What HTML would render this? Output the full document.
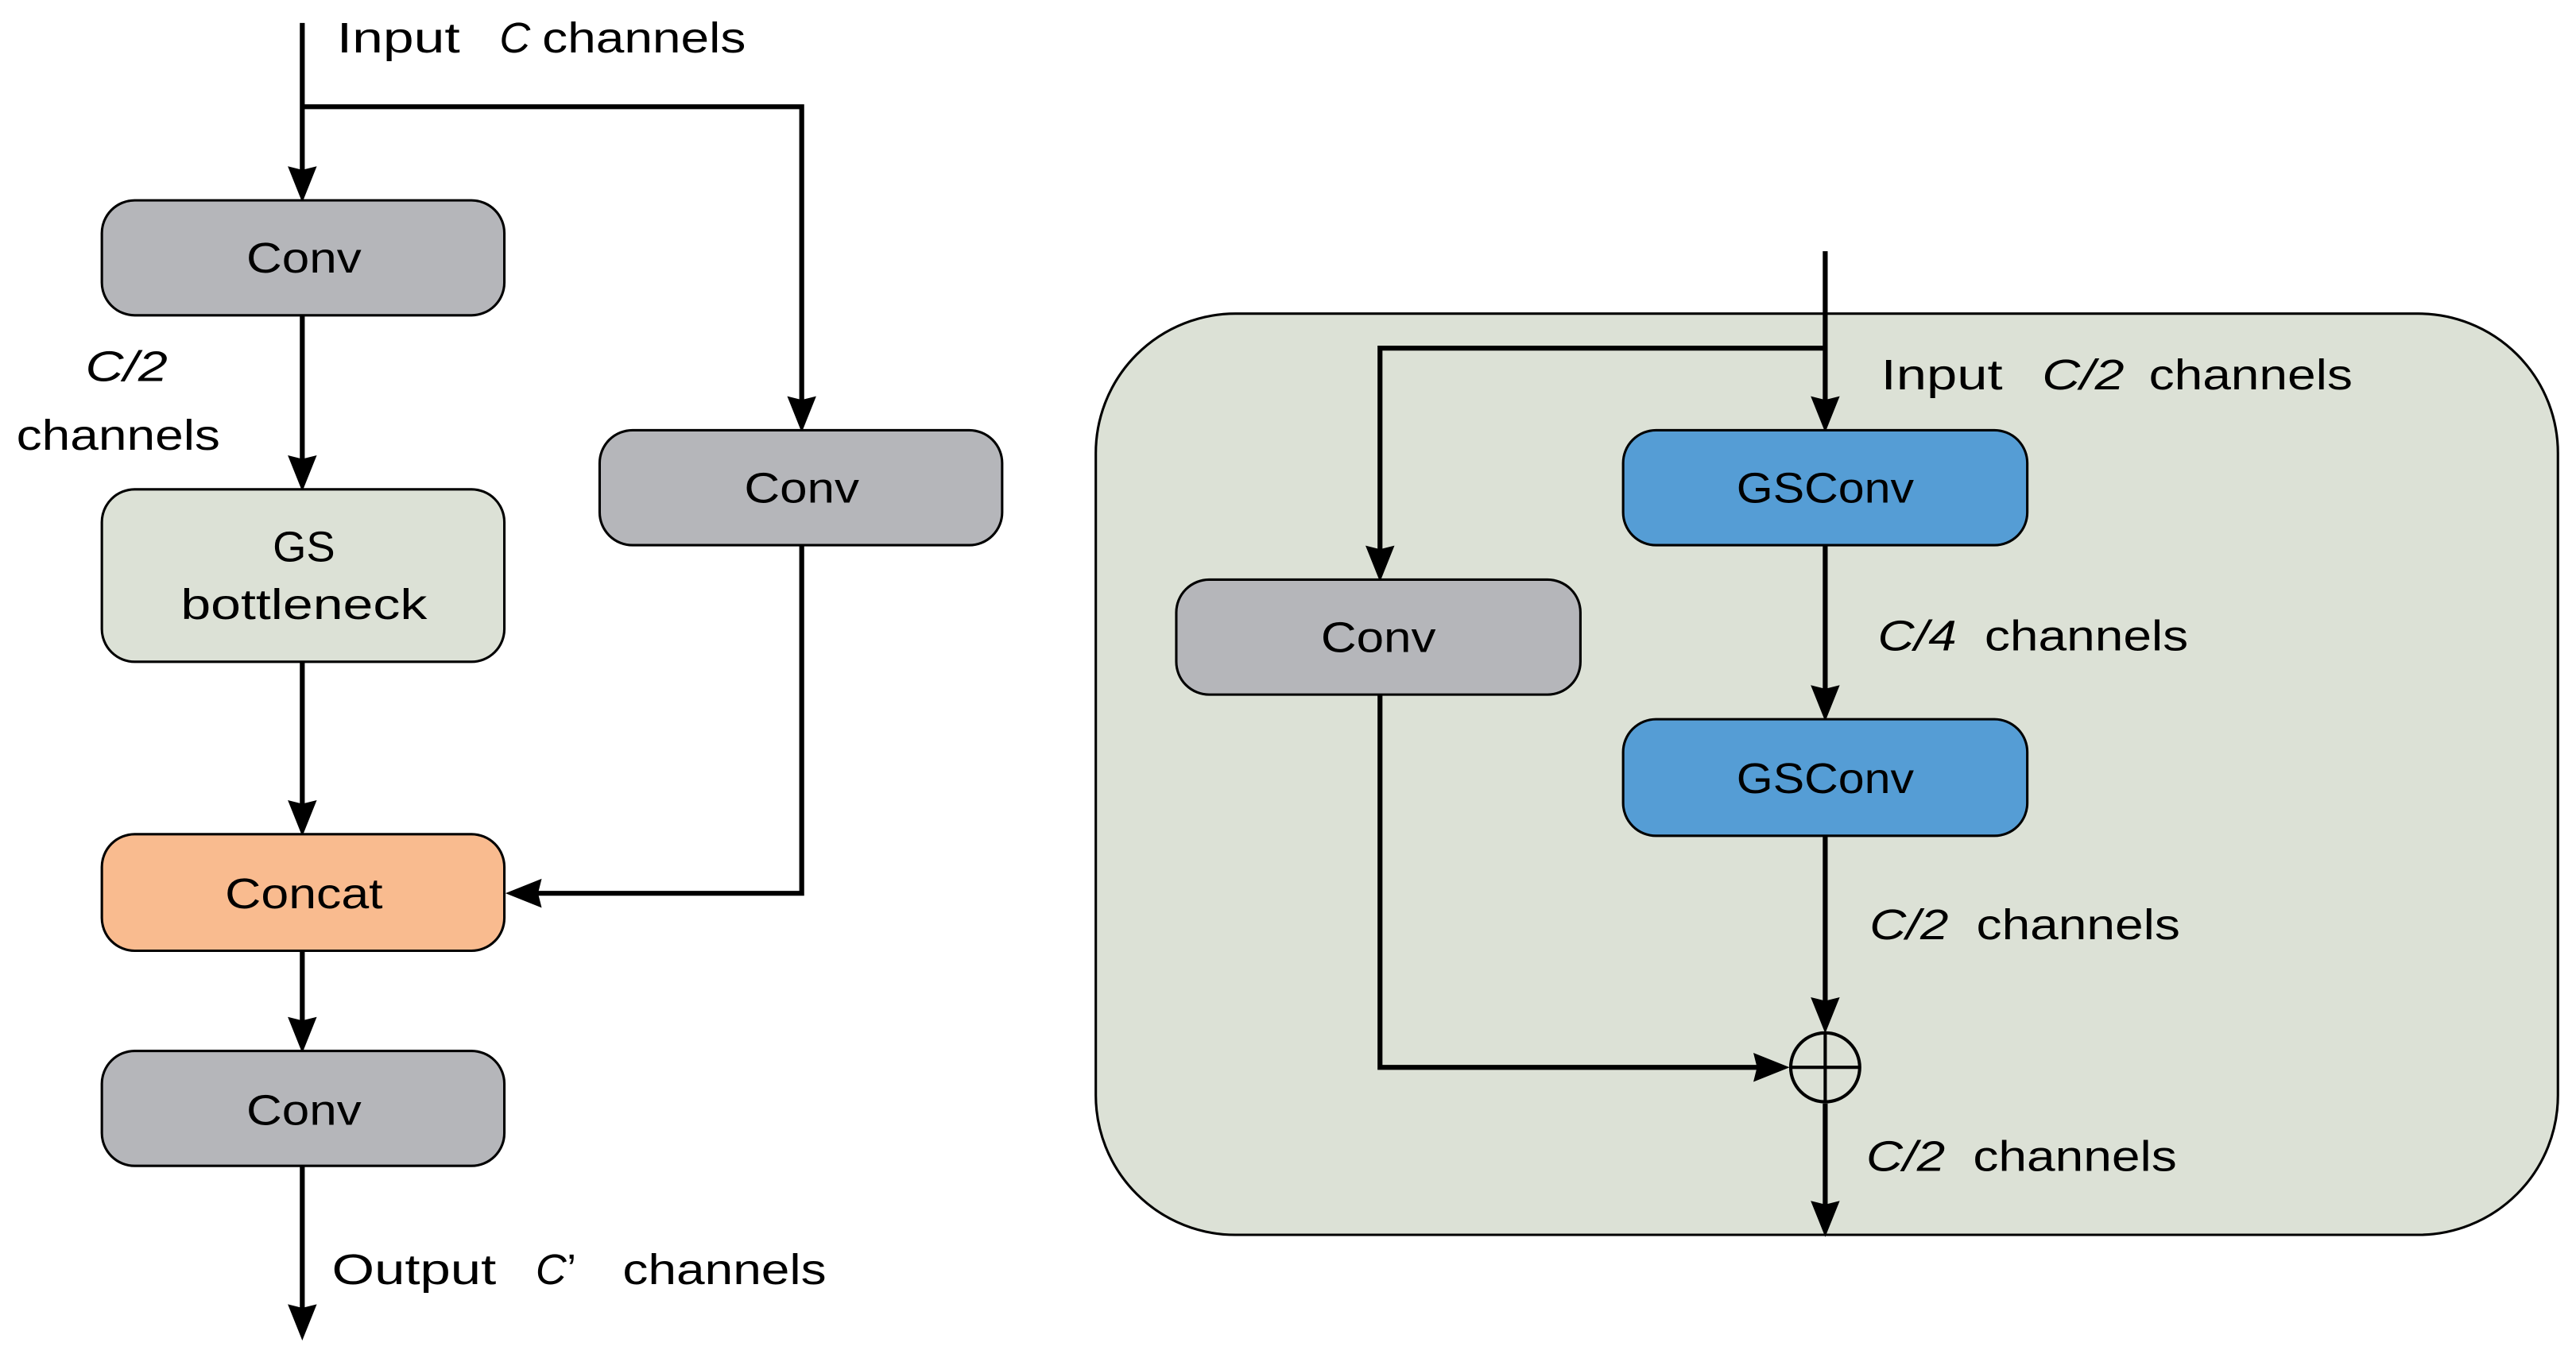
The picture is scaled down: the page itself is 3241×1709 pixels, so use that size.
<!DOCTYPE html>
<html><head><meta charset="utf-8"><style>html,body{margin:0;padding:0;background:#fff}svg{display:block}</style></head><body>
<svg width="3241" height="1709" viewBox="0 0 1568 827" preserveAspectRatio="none" xmlns="http://www.w3.org/2000/svg" font-family="Liberation Sans, sans-serif" font-size="26">
<defs><marker id="a" markerWidth="6" markerHeight="6" refX="6" refY="3" orient="auto" markerUnits="userSpaceOnUse" viewBox="0 0 6 6"><path d="M0,0 L6,3 L0,6 z" fill="#000"/></marker></defs>
<g fill="none" stroke="#000" stroke-width="3">
<!-- left -->
<path d="M184,14 V104"/><path d="M184,104 l-8,-2 l8,20 l8,-20 z" fill="#000" stroke-width="1"/>
<path d="M184,65 H488 V244"/><path d="M488,244 l-8,-2 l8,20 l8,-20 z" fill="#000" stroke-width="1"/>
<path d="M184,192 V280"/><path d="M184,280 l-8,-2 l8,20 l8,-20 z" fill="#000" stroke-width="1"/>
<path d="M184,403 V490"/><path d="M184,490 l-8,-2 l8,20 l8,-20 z" fill="#000" stroke-width="1"/>
<path d="M488,332 V544 H327"/><path d="M327,544 l2,-8 l-20,8 l20,8 z" fill="#000" stroke-width="1"/>
<path d="M184,579 V622"/><path d="M184,622 l-8,-2 l8,20 l8,-20 z" fill="#000" stroke-width="1"/>
<path d="M184,710 V797"/><path d="M184,797 l-8,-2 l8,20 l8,-20 z" fill="#000" stroke-width="1"/>
</g>
<g stroke="#000" stroke-width="1.5">
<rect x="62" y="122" width="245" height="70" rx="20" fill="#b5b6ba"/>
<rect x="62" y="298" width="245" height="105" rx="20" fill="#dce1d6"/>
<rect x="62" y="508" width="245" height="71" rx="20" fill="#f9bb8f"/>
<rect x="62" y="640" width="245" height="70" rx="20" fill="#b5b6ba"/>
<rect x="365" y="262" width="245" height="70" rx="20" fill="#b5b6ba"/>
<!-- right panel -->
<rect x="667" y="191" width="890" height="561" rx="85" fill="#dce1d6"/>
</g>
<g fill="none" stroke="#000" stroke-width="3">
<path d="M1111,153 V244"/><path d="M1111,244 l-8,-2 l8,20 l8,-20 z" fill="#000" stroke-width="1"/>
<path d="M1111,212 H840 V335"/><path d="M840,335 l-8,-2 l8,20 l8,-20 z" fill="#000" stroke-width="1"/>
<path d="M1111,332 V420"/><path d="M1111,420 l-8,-2 l8,20 l8,-20 z" fill="#000" stroke-width="1"/>
<path d="M1111,509 V610"/><path d="M1111,610 l-8,-2 l8,20 l8,-20 z" fill="#000" stroke-width="1"/>
<path d="M840,423 V650 H1070"/><path d="M1070,650 l-2,-8 l20,8 l-20,8 z" fill="#000" stroke-width="1"/>
<path d="M1111,672 V734"/><path d="M1111,734 l-8,-2 l8,20 l8,-20 z" fill="#000" stroke-width="1"/>
<circle cx="1111" cy="650" r="21" stroke-width="2"/><path d="M1090,650 H1132 M1111,629 V671" stroke-width="2"/>
</g>
<g stroke="#000" stroke-width="1.5">
<rect x="988" y="262" width="246" height="70" rx="20" fill="#559dd5"/>
<rect x="988" y="438" width="246" height="71" rx="20" fill="#559dd5"/>
<rect x="716" y="353" width="246" height="70" rx="20" fill="#b5b6ba"/>
</g>
<g fill="#000" text-anchor="middle">
<text x="185" y="166" textLength="70" lengthAdjust="spacingAndGlyphs">Conv</text>
<text x="185" y="342" textLength="38" lengthAdjust="spacingAndGlyphs">GS</text>
<text x="185" y="377" textLength="150" lengthAdjust="spacingAndGlyphs">bottleneck</text>
<text x="185" y="553" textLength="96" lengthAdjust="spacingAndGlyphs">Concat</text>
<text x="185" y="685" textLength="70" lengthAdjust="spacingAndGlyphs">Conv</text>
<text x="488" y="306" textLength="70" lengthAdjust="spacingAndGlyphs">Conv</text>
<text x="1111" y="306" textLength="108" lengthAdjust="spacingAndGlyphs">GSConv</text>
<text x="1111" y="483" textLength="108" lengthAdjust="spacingAndGlyphs">GSConv</text>
<text x="839" y="397" textLength="70" lengthAdjust="spacingAndGlyphs">Conv</text>
</g>
<g fill="#000">
<text x="205" y="32" textLength="75" lengthAdjust="spacingAndGlyphs">Input</text>
<text x="304" y="32" font-style="italic">C</text><text x="330" y="32" textLength="124" lengthAdjust="spacingAndGlyphs">channels</text>
<text x="52" y="232" font-style="italic" textLength="50" lengthAdjust="spacingAndGlyphs">C/2</text>
<text x="10" y="274" textLength="124" lengthAdjust="spacingAndGlyphs">channels</text>
<text x="202" y="782" textLength="100" lengthAdjust="spacingAndGlyphs">Output</text>
<text x="326" y="782" font-style="italic">C</text><text x="345" y="782">’</text>
<text x="379" y="782" textLength="124" lengthAdjust="spacingAndGlyphs">channels</text>
<text x="1145" y="237" textLength="74" lengthAdjust="spacingAndGlyphs">Input</text>
<text x="1243" y="237" font-style="italic" textLength="50" lengthAdjust="spacingAndGlyphs">C/2</text>
<text x="1308" y="237" textLength="124" lengthAdjust="spacingAndGlyphs">channels</text>
<text x="1143" y="396" font-style="italic" textLength="48" lengthAdjust="spacingAndGlyphs">C/4</text>
<text x="1208" y="396" textLength="124" lengthAdjust="spacingAndGlyphs">channels</text>
<text x="1138" y="572" font-style="italic" textLength="48" lengthAdjust="spacingAndGlyphs">C/2</text>
<text x="1203" y="572" textLength="124" lengthAdjust="spacingAndGlyphs">channels</text>
<text x="1136" y="713" font-style="italic" textLength="48" lengthAdjust="spacingAndGlyphs">C/2</text>
<text x="1201" y="713" textLength="124" lengthAdjust="spacingAndGlyphs">channels</text>
</g>
</svg>
</body></html>
